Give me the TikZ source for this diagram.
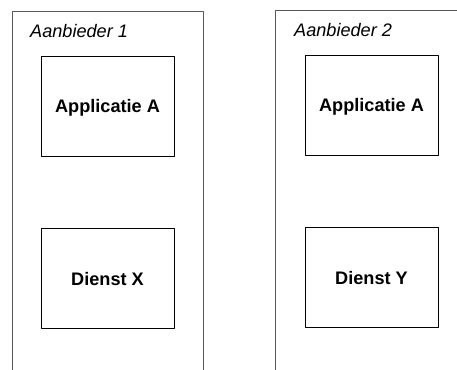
\documentclass[tikz,border=0pt]{standalone}
\usepackage{fontspec}
\setmainfont{Liberation Sans}
\usetikzlibrary{positioning}
\tikzset{
  every picture/.append style={line cap=round,line join=round},
  prov frame/.style={draw=black!65,line width=0.9bp},
  prov box/.style={draw=black,line width=0.9bp,minimum width=133bp,minimum height=100bp,inner sep=0pt,text height=12.5bp,text depth=0bp,font=\fontsize{18.2}{21}\selectfont\bfseries},
  prov title/.style={anchor=west,inner sep=0pt,font=\fontsize{18.2}{21}\selectfont\itshape}
}
\begin{document}
\begin{tikzpicture}[x=1bp,y=-1bp]
  \useasboundingbox (0,0) rectangle (457,369);
  \clip (0,0) rectangle (457,369);

  % two providers, open at the bottom
  \draw[prov frame] (12,372) -- (12,11) -- (203,11) -- (203,372);
  \draw[prov frame] (275,372) -- (275,10) -- (470,10) -- (470,372);

  \node[prov title] (prov1) at (30,31) {Aanbieder 1};
  \node[prov title] (prov2) at (294,30) {Aanbieder 2};

  \node[prov box] (app1) at (107.5,106) {Applicatie A};
  \node[prov box, below=72bp of app1] (dienstX) {Dienst X};
  \node[prov box] (app2) at (371.5,105) {Applicatie A};
  \node[prov box, below=72bp of app2] (dienstY) {Dienst Y};
\end{tikzpicture}
\end{document}
